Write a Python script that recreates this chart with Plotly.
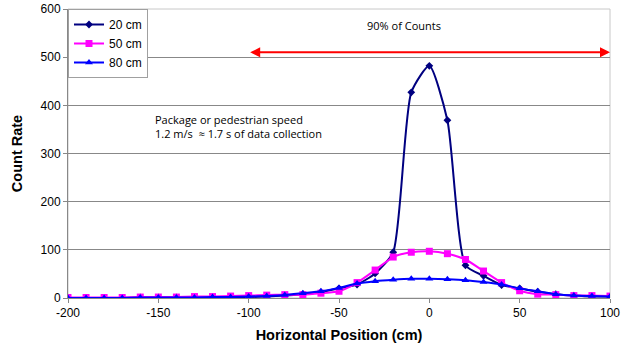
import plotly.graph_objects as go

x_pos = [-200, -190, -180, -170, -160, -150, -140, -130, -120, -110, -100, -90, -80, -70, -60,
         -50, -40, -30, -20, -10, 0, 10, 20, 30, 40, 50, 60, 70, 80, 90, 100]
cr_20 = [0, 0, 0, 0, 1, 1, 1, 1, 2, 2, 2, 3, 5, 8, 12,
         20, 28, 51, 95, 427, 482, 369, 68, 46, 27, 20, 13, 8, 5, 3, 3]
cr_50 = [1, 1, 1, 1, 2, 2, 2, 3, 3, 4, 5, 6, 7, 7, 10,
         14, 32, 58, 85, 95, 97, 92, 80, 56, 32, 15, 8, 7, 5, 5, 4]
cr_80 = [0, 0, 0, 0, 1, 1, 1, 1, 2, 2, 3, 4, 6, 10, 14,
         21, 30, 35, 38, 40, 40, 39, 37, 33, 28, 20, 14, 8, 5, 4, 3]
series_names = ["20 cm", "50 cm", "80 cm"]
x_ticks = [-200, -150, -100, -50, 0, 50, 100]
x_tick_labels = ["-200", "-150", "-100", "-50", "0", "50", "100"]
y_ticks = [0, 100, 200, 300, 400, 500, 600]

FONT = "Liberation Sans, Arial, sans-serif"

fig = go.Figure()
fig.add_trace(go.Scatter(x=x_pos, y=cr_20, name=series_names[0], mode="lines+markers",
                         line=dict(color="#000080", width=2, shape="spline", smoothing=0.6),
                         marker=dict(symbol="diamond", size=6, color="#000080")))
fig.add_trace(go.Scatter(x=x_pos, y=cr_50, name=series_names[1], mode="lines+markers",
                         line=dict(color="#FF00FF", width=2, shape="spline", smoothing=0.6),
                         marker=dict(symbol="square", size=7, color="#FF00FF")))
fig.add_trace(go.Scatter(x=x_pos, y=cr_80, name=series_names[2], mode="lines+markers",
                         line=dict(color="#0000FF", width=2, shape="spline", smoothing=0.6),
                         marker=dict(symbol="triangle-up", size=7, color="#0000FF")))

# plot area border (light)
fig.add_shape(type="rect", xref="paper", yref="paper", x0=0, y0=0, x1=1, y1=1,
              line=dict(color="#C8C8C8", width=1), layer="below")

# red double arrow
fig.add_annotation(x=100, y=510, ax=-100, ay=510, xref="x", yref="y", axref="x", ayref="y",
                   text="", showarrow=True, arrowhead=2, arrowside="end+start",
                   arrowcolor="#FF0000", arrowwidth=2, arrowsize=1)
fig.add_annotation(x=-14, y=565, xref="x", yref="y", text="90% of Counts", showarrow=False,
                   font=dict(family="Open Sans, sans-serif", size=11, color="#000"))
fig.add_annotation(x=-153, y=357, xref="x", yref="y", xanchor="left",
                   text="Package or pedestrian speed<br>1.2 m/s  \u2248 1.7 s of data collection",
                   showarrow=False, align="left",
                   font=dict(family="Open Sans, sans-serif", size=11, color="#000"))

fig.update_layout(
    width=623, height=354,
    margin=dict(l=68, r=13, t=9, b=56, autoexpand=False),
    paper_bgcolor="white", plot_bgcolor="white",
    font=dict(family=FONT, size=12, color="#000"),
    showlegend=True,
    legend=dict(x=0, y=1, xanchor="left", yanchor="top", bgcolor="white",
                bordercolor="#A0A0A0", borderwidth=1, font=dict(size=12),
                itemwidth=30, tracegroupgap=0),
    xaxis=dict(range=[-200, 100], tickvals=x_ticks, ticktext=x_tick_labels,
               showgrid=False, zeroline=False,
               showline=True, linecolor="#888", linewidth=1, ticks="outside",
               ticklen=4, tickcolor="#888", automargin=False,
               title=dict(text="<b>Horizontal Position (cm)</b>", font=dict(size=14.5), standoff=10)),
    yaxis=dict(range=[0, 600], tickvals=y_ticks, showgrid=True, gridcolor="#888", gridwidth=1,
               zeroline=False, showline=True, linecolor="#888", linewidth=1, ticks="outside",
               ticklen=4, tickcolor="#888", automargin=False,
               title=dict(text="<b>Count Rate</b>", font=dict(size=14.5), standoff=14)),
)

fig.write_html("out.html", config={"displayModeBar": False},
               post_script="document.body.style.margin='0';")
